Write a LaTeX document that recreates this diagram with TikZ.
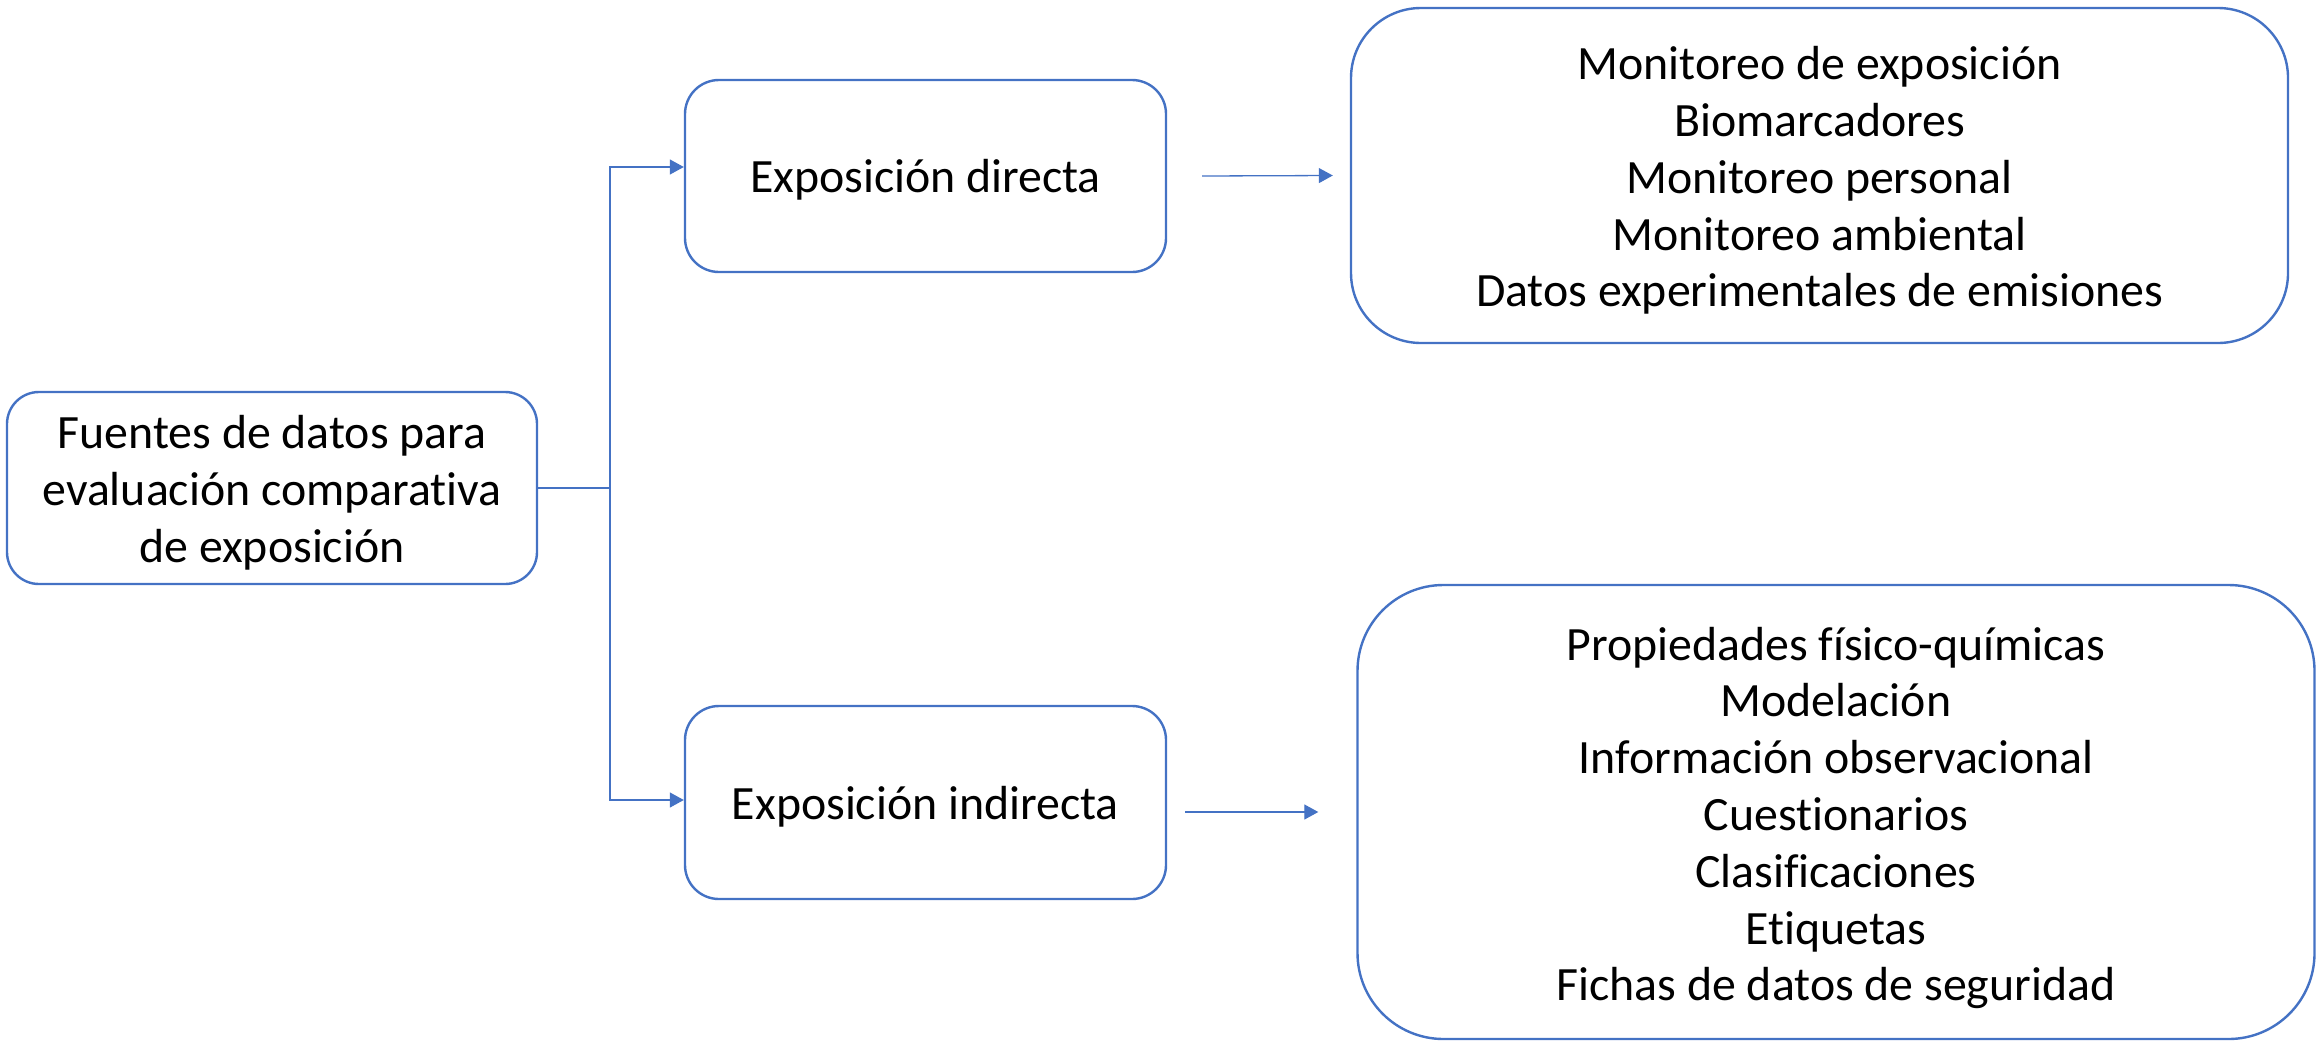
\documentclass[tikz,border=0pt]{standalone}
\usepackage{fontspec}
\setmainfont{Carlito}[Ligatures=NoCommon]
\usetikzlibrary{arrows.meta,calc}
\definecolor{obl}{HTML}{4472C4}
\begin{document}
\begin{tikzpicture}[x=1bp,y=-1bp,
  box/.style={draw=obl,line width=2.4bp,rounded corners=#1,inner sep=0pt},
  box/.default=34bp,
  txt/.style={align=center,inner sep=0pt,font=\fontsize{48}{57}\selectfont},
  conn/.style={draw=obl,line width=1.3bp},
  arr/.style={conn,-{Triangle[length=14bp,width=15bp]}}]
\useasboundingbox (0,0) rectangle (2318,1042);
\node[box=32bp,minimum width=530bp,minimum height=192bp] (src) at (272,488) {};
\node[box,minimum width=481bp,minimum height=192bp] (dir) at (925.5,176) {};
\node[box,minimum width=481bp,minimum height=193bp] (ind) at (925.5,802.5) {};
\node[box=70bp,minimum width=937bp,minimum height=335bp] (mon) at (1819.5,175.5) {};
\node[box=86bp,minimum width=957bp,minimum height=454bp] (prop) at (1836,812) {};
\node[txt] (srct) at ($(src.center)+(0,5)$) {Fuentes de datos para\\evaluación comparativa\\de exposición};
\node[txt] (dirt) at ($(dir.center)+(0,4)$) {Exposición directa};
\node[txt] (indt) at ($(ind.center)+(0,4)$) {Exposición indirecta};
\node[txt] (mont) at ($(mon.center)+(0,5)$)
  {Monitoreo de exposición\\Biomarcadores\\Monitoreo personal\\Monitoreo ambiental\\Datos experimentales de emisiones};
\node[txt] (propt) at ($(prop.center)+(0,6)$)
  {Propiedades físico-químicas\\Modelación\\Información observacional\\Cuestionarios\\Clasificaciones\\Etiquetas\\Fichas de datos de seguridad};
\coordinate (j) at (610,488);
\draw[conn] (src.east) -- (j);
\draw[arr] (j) |- ([yshift=9bp]dir.west);
\draw[arr] (j) |- ([yshift=2.5bp]ind.west);
\draw[arr] ($(dir.east)+(35,0)$) -- ($(mon.west)+(-17,0)$);
\draw[arr] ($(ind.east |- prop.west)+(18,0)$) -- ($(prop.west)+(-38,0)$);
\end{tikzpicture}
\end{document}
